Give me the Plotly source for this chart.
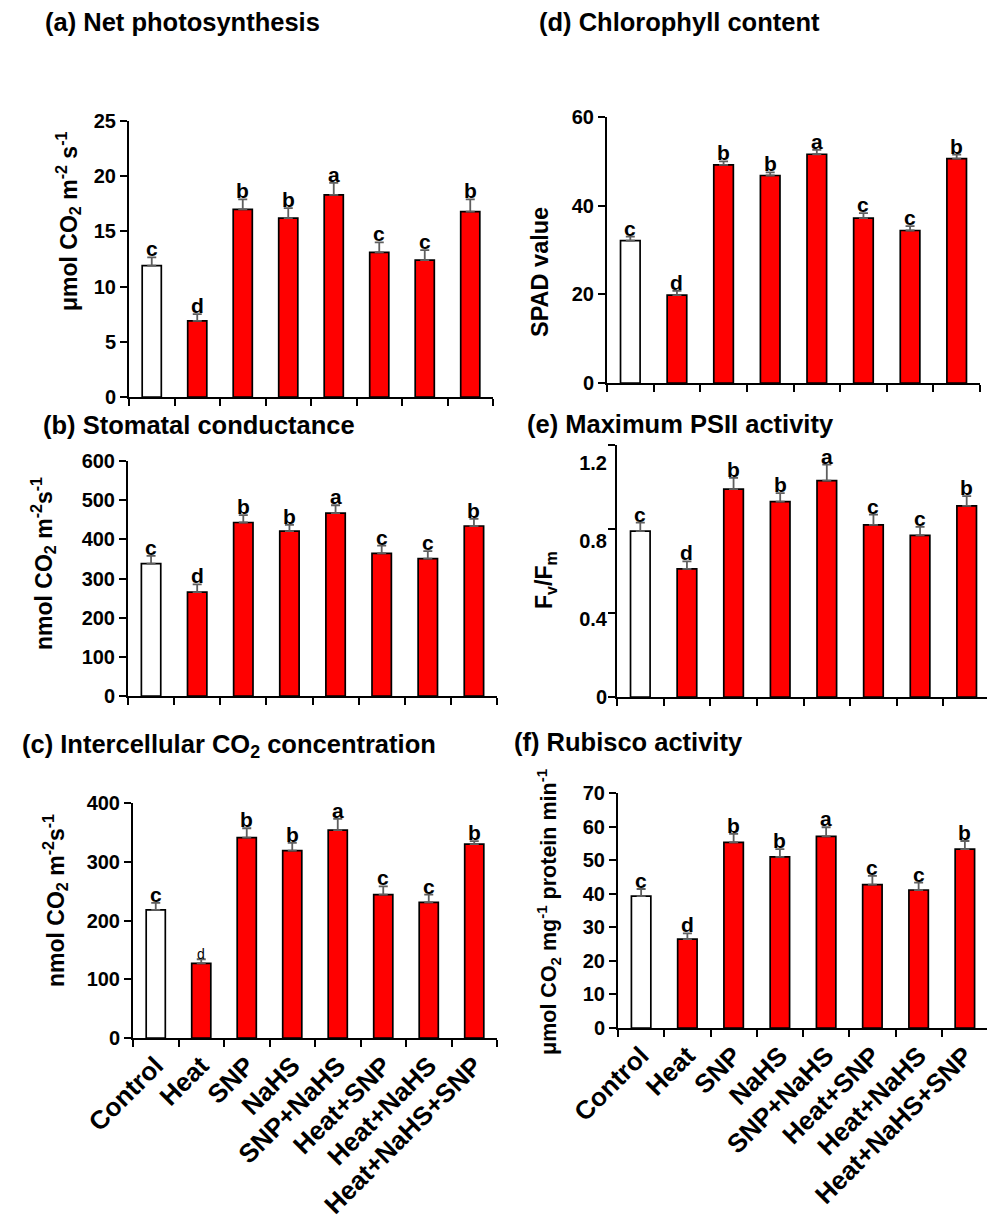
import plotly.graph_objects as go

categories = ["Control", "Heat", "SNP", "NaHS", "SNP+NaHS", "Heat+SNP", "Heat+NaHS", "Heat+NaHS+SNP"]
letters_common = ["c", "d", "b", "b", "a", "c", "c", "b"]

net_ps = [11.9, 6.9, 17.0, 16.2, 18.3, 13.1, 12.4, 16.8]
net_ps_err = [0.75, 0.6, 0.9, 0.9, 1.1, 0.9, 0.9, 1.1]

stomatal = [338, 265, 443, 421, 467, 364, 351, 434]
stomatal_err = [20, 20, 19, 16, 20, 20, 19, 18]

intercell = [218, 127, 341, 319, 354, 244, 231, 330]
intercell_err = [12, 7, 16, 13, 19, 14, 13, 5]

chl = [32.1, 19.8, 49.2, 46.8, 51.6, 37.2, 34.4, 50.6]
chl_err = [0.9, 1.0, 0.8, 0.7, 1.0, 1.1, 1.0, 0.9]

fvfm = [0.79, 0.61, 0.99, 0.93, 1.03, 0.82, 0.77, 0.91]
fvfm_err = [0.04, 0.036, 0.053, 0.041, 0.077, 0.048, 0.04, 0.047]
fvfm_ticks = [0, 0.4, 0.8, 1.2]

rubisco = [39.3, 26.5, 55.3, 51.0, 57.1, 42.7, 41.1, 53.3]
rubisco_err = [2.1, 1.7, 2.5, 2.3, 2.7, 2.6, 2.2, 2.4]

W, H = 995, 1221
OFF = 8  # page body margin of the html page
FONT = "Liberation Sans, Arial, sans-serif"
bar_colors = ["#FFFFFF"] + ["#FF0000"] * 7


def px(x):
    return (x - OFF) / W


def py(y):
    return 1 - (y - OFF) / H


panels = [
    dict(v=net_ps, e=net_ps_err, title="(a) Net photosynthesis",
         ytitle="μmol CO<sub>2</sub> m<sup>-2</sup> s<sup>-1</sup>", yr=[0, 25], dt=5,
         box=(129, 493, 121, 397), tpos=(43, 22), ypos=(68, 221), ysize=23, lab=False),
    dict(v=stomatal, e=stomatal_err, title="(b) Stomatal conductance",
         ytitle="nmol CO<sub>2</sub> m<sup>-2</sup>s<sup>-1</sup>", yr=[0, 600], dt=100,
         box=(128, 497, 461, 696), tpos=(41, 425), ypos=(43, 564), ysize=23, lab=False),
    dict(v=intercell, e=intercell_err, title="(c) Intercellular CO<sub>2</sub> concentration",
         ytitle="nmol CO<sub>2</sub> m<sup>-2</sup>s<sup>-1</sup>", yr=[0, 400], dt=100,
         box=(133, 497, 803, 1038), tpos=(20, 746), ypos=(55, 901), ysize=23, lab=True),
    dict(v=chl, e=chl_err, title="(d) Chlorophyll content",
         ytitle="SPAD value", yr=[0, 60], dt=20,
         box=(607, 980, 117, 383), tpos=(537, 22), ypos=(540, 272), ysize=23.5, lab=False),
    dict(v=fvfm, e=fvfm_err, title="(e) Maximum PSII activity",
         ytitle="F<sub>v</sub>/F<sub>m</sub>", yr=[0, 1.2], dt=0.4,
         box=(617, 990, 445, 697), tpos=(525, 424), ypos=(545, 580), ysize=23, lab=False),
    dict(v=rubisco, e=rubisco_err, title="(f) Rubisco activity",
         ytitle="μmol CO<sub>2</sub> mg<sup>-1</sup> protein min<sup>-1</sup>", yr=[0, 70], dt=10,
         box=(618, 988, 793, 1028), tpos=(512, 742), ypos=(548, 912), ysize=21.5, lab=True),
]

fig = go.Figure()
annotations = []
layout = {}

for i, p in enumerate(panels):
    n = i + 1
    xa = "x" if n == 1 else f"x{n}"
    ya = "y" if n == 1 else f"y{n}"
    fig.add_trace(go.Bar(
        x=categories, y=p["v"], xaxis=xa, yaxis=ya,
        marker=dict(color=bar_colors, line=dict(color="black", width=1.7)),
        error_y=dict(type="data", symmetric=False, array=p["e"],
                     arrayminus=[0] * len(p["e"]), color="#5f5f5f", thickness=1.8, width=4.5),
        showlegend=False, hoverinfo="skip",
    ))
    x0, x1, y0, y1 = p["box"]
    xkey = "xaxis" if n == 1 else f"xaxis{n}"
    ykey = "yaxis" if n == 1 else f"yaxis{n}"
    layout[xkey] = dict(
        domain=[px(x0), px(x1)], anchor=ya, type="category", automargin=False,
        categoryorder="array", categoryarray=categories,
        tickson="boundaries", ticks="outside", ticklen=7, tickwidth=2, tickcolor="black",
        showline=True, linewidth=2, linecolor="black", showgrid=False,
        showticklabels=p["lab"], tickangle=-45,
        tickfont=dict(family=FONT, size=26, color="black", weight="bold"),
    )
    layout[ykey] = dict(
        domain=[py(y1), py(y0)], anchor=xa, range=p["yr"], dtick=p["dt"], tick0=0,
        automargin=False,
        ticks="outside", ticklen=7, tickwidth=2, tickcolor="black",
        showline=True, linewidth=2, linecolor="black", showgrid=False, zeroline=False,
        tickfont=dict(family=FONT, size=20, color="black", weight="bold"),
    )
    tx, ty = p["tpos"]
    annotations.append(dict(
        text=p["title"], xref="paper", yref="paper", x=px(tx), y=py(ty),
        xanchor="left", yanchor="middle", showarrow=False,
        font=dict(family=FONT, size=25.5, color="black", weight="bold"),
    ))
    yx, yy = p["ypos"]
    annotations.append(dict(
        text=p["ytitle"], xref="paper", yref="paper", x=px(yx), y=py(yy),
        xanchor="center", yanchor="middle", textangle=-90, showarrow=False,
        font=dict(family=FONT, size=p["ysize"], color="black", weight="bold"),
    ))
    for j, (c, v, e, L) in enumerate(zip(categories, p["v"], p["e"], letters_common)):
        small = (n == 3 and j == 1)
        annotations.append(dict(
            text=L, xref=xa, yref=ya, x=c, y=v + e, xanchor="center", yanchor="bottom",
            yshift=-5, showarrow=False,
            font=dict(family=FONT, size=14 if small else 21, color="black",
                      weight="normal" if small else "bold"),
        ))

# panel (e): tick labels sit slightly lower than their ticks in the reference
layout["yaxis5"]["showticklabels"] = False
x0, x1, y0, y1 = panels[4]["box"]
layout["yaxis7"] = dict(
    domain=[py(y1), py(y0)], anchor="x5", overlaying="y5",
    range=[0, 1.2 * 252 / 234], tickvals=fvfm_ticks, ticktext=[f"{t:g}" for t in fvfm_ticks],
    automargin=False, ticks="", showline=False, showgrid=False, zeroline=False,
    ticklabelstandoff=9,
    tickfont=dict(family=FONT, size=20, color="black", weight="bold"),
)
fig.add_trace(go.Scatter(x=[categories[0]], y=[None], xaxis="x5", yaxis="y7",
                         showlegend=False, hoverinfo="skip", mode="markers"))

fig.update_layout(
    width=W, height=H, margin=dict(l=0, r=0, t=0, b=0),
    paper_bgcolor="white", plot_bgcolor="white", bargap=0.58,
    annotations=annotations, font=dict(family=FONT, color="black"),
    **layout,
)

fig.write_html("out.html")
